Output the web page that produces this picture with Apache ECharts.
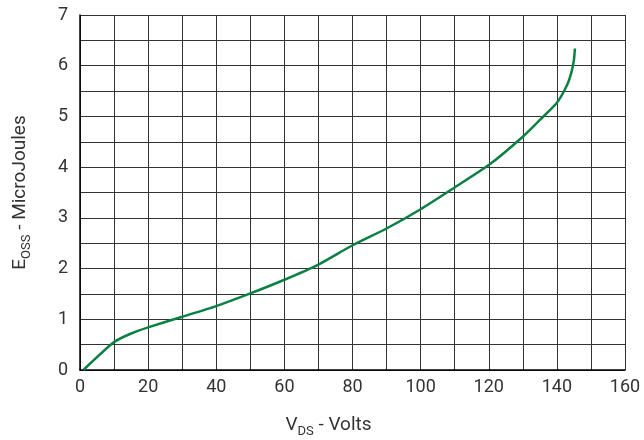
<!DOCTYPE html>
<html lang="en">
<head>
    <meta charset="UTF-8">
    <title>Eoss vs Vds</title>
    <script src="https://cdn.jsdelivr.net/npm/echarts@6/dist/echarts.min.js"></script>
    <style>
        html, body {margin: 0; padding: 0; background: #fff;}
    </style>
</head>
<body>
<div id="chart" style="width: 644px;height: 440px;"></div>

<script type="text/javascript">
    // V_DS (volts) and E_OSS (microjoules)
    var vds = [1, 10, 15, 20, 30, 40, 50, 60, 70, 80, 90, 100, 110, 120, 130, 135, 140, 143, 144.3, 145, 145.3];
    var eoss = [0, 0.55, 0.72, 0.84, 1.05, 1.26, 1.51, 1.78, 2.08, 2.46, 2.79, 3.17, 3.6, 4.04, 4.6, 4.93, 5.27, 5.62, 5.88, 6.11, 6.34];

    var points = vds.map(function (v, i) {
        return [v, eoss[i]];
    });

    var font = 'Roboto';
    var gridColor = '#333';
    var nameRich = {
        a: {fontFamily: font, fontSize: 19, color: '#333', verticalAlign: 'bottom', lineHeight: 22},
        b: {fontFamily: font, fontSize: 13, color: '#333', verticalAlign: 'bottom', lineHeight: 16, padding: [0, 0, -3, 0]}
    };

    var myChart = echarts.init(document.getElementById('chart'));
    var option = {
        animation: false,
        grid: {left: 80, right: 19, top: 15, bottom: 70, outerBoundsMode: 'none', containLabel: false},
        xAxis: {
            type: 'value',
            min: 0,
            max: 160,
            interval: 20,
            name: '{a|V}{b|DS}{a| - Volts}',
            nameLocation: 'middle',
            nameGap: 43,
            nameTextStyle: {rich: nameRich, padding: [0, 48, 0, 0]},
            axisLine: {lineStyle: {color: '#000', width: 1.5}},
            axisTick: {show: false},
            axisLabel: {fontFamily: font, fontSize: 18, color: '#333', margin: 8},
            splitLine: {show: true, lineStyle: {color: gridColor, width: 1}},
            minorTick: {show: false, splitNumber: 2},
            minorSplitLine: {show: true, lineStyle: {color: gridColor, width: 1}}
        },
        yAxis: {
            type: 'value',
            min: 0,
            max: 7,
            interval: 1,
            name: '{a|E}{b|OSS}{a| - MicroJoules}',
            nameLocation: 'middle',
            nameGap: 50,
            nameRotate: 90,
            nameTextStyle: {rich: nameRich},
            axisLine: {show: true, lineStyle: {color: '#000', width: 1.5}},
            axisTick: {show: false},
            axisLabel: {fontFamily: font, fontSize: 18, color: '#333', margin: 12},
            splitLine: {show: true, lineStyle: {color: gridColor, width: 1}},
            minorTick: {show: false, splitNumber: 2},
            minorSplitLine: {show: true, lineStyle: {color: gridColor, width: 1}}
        },
        series: [
            {
                type: 'line',
                data: points,
                smooth: 0.2,
                symbol: 'none',
                lineStyle: {color: '#0b8043', width: 2.5}
            }
        ]
    };
    myChart.setOption(option);
</script>
</body>
</html>
